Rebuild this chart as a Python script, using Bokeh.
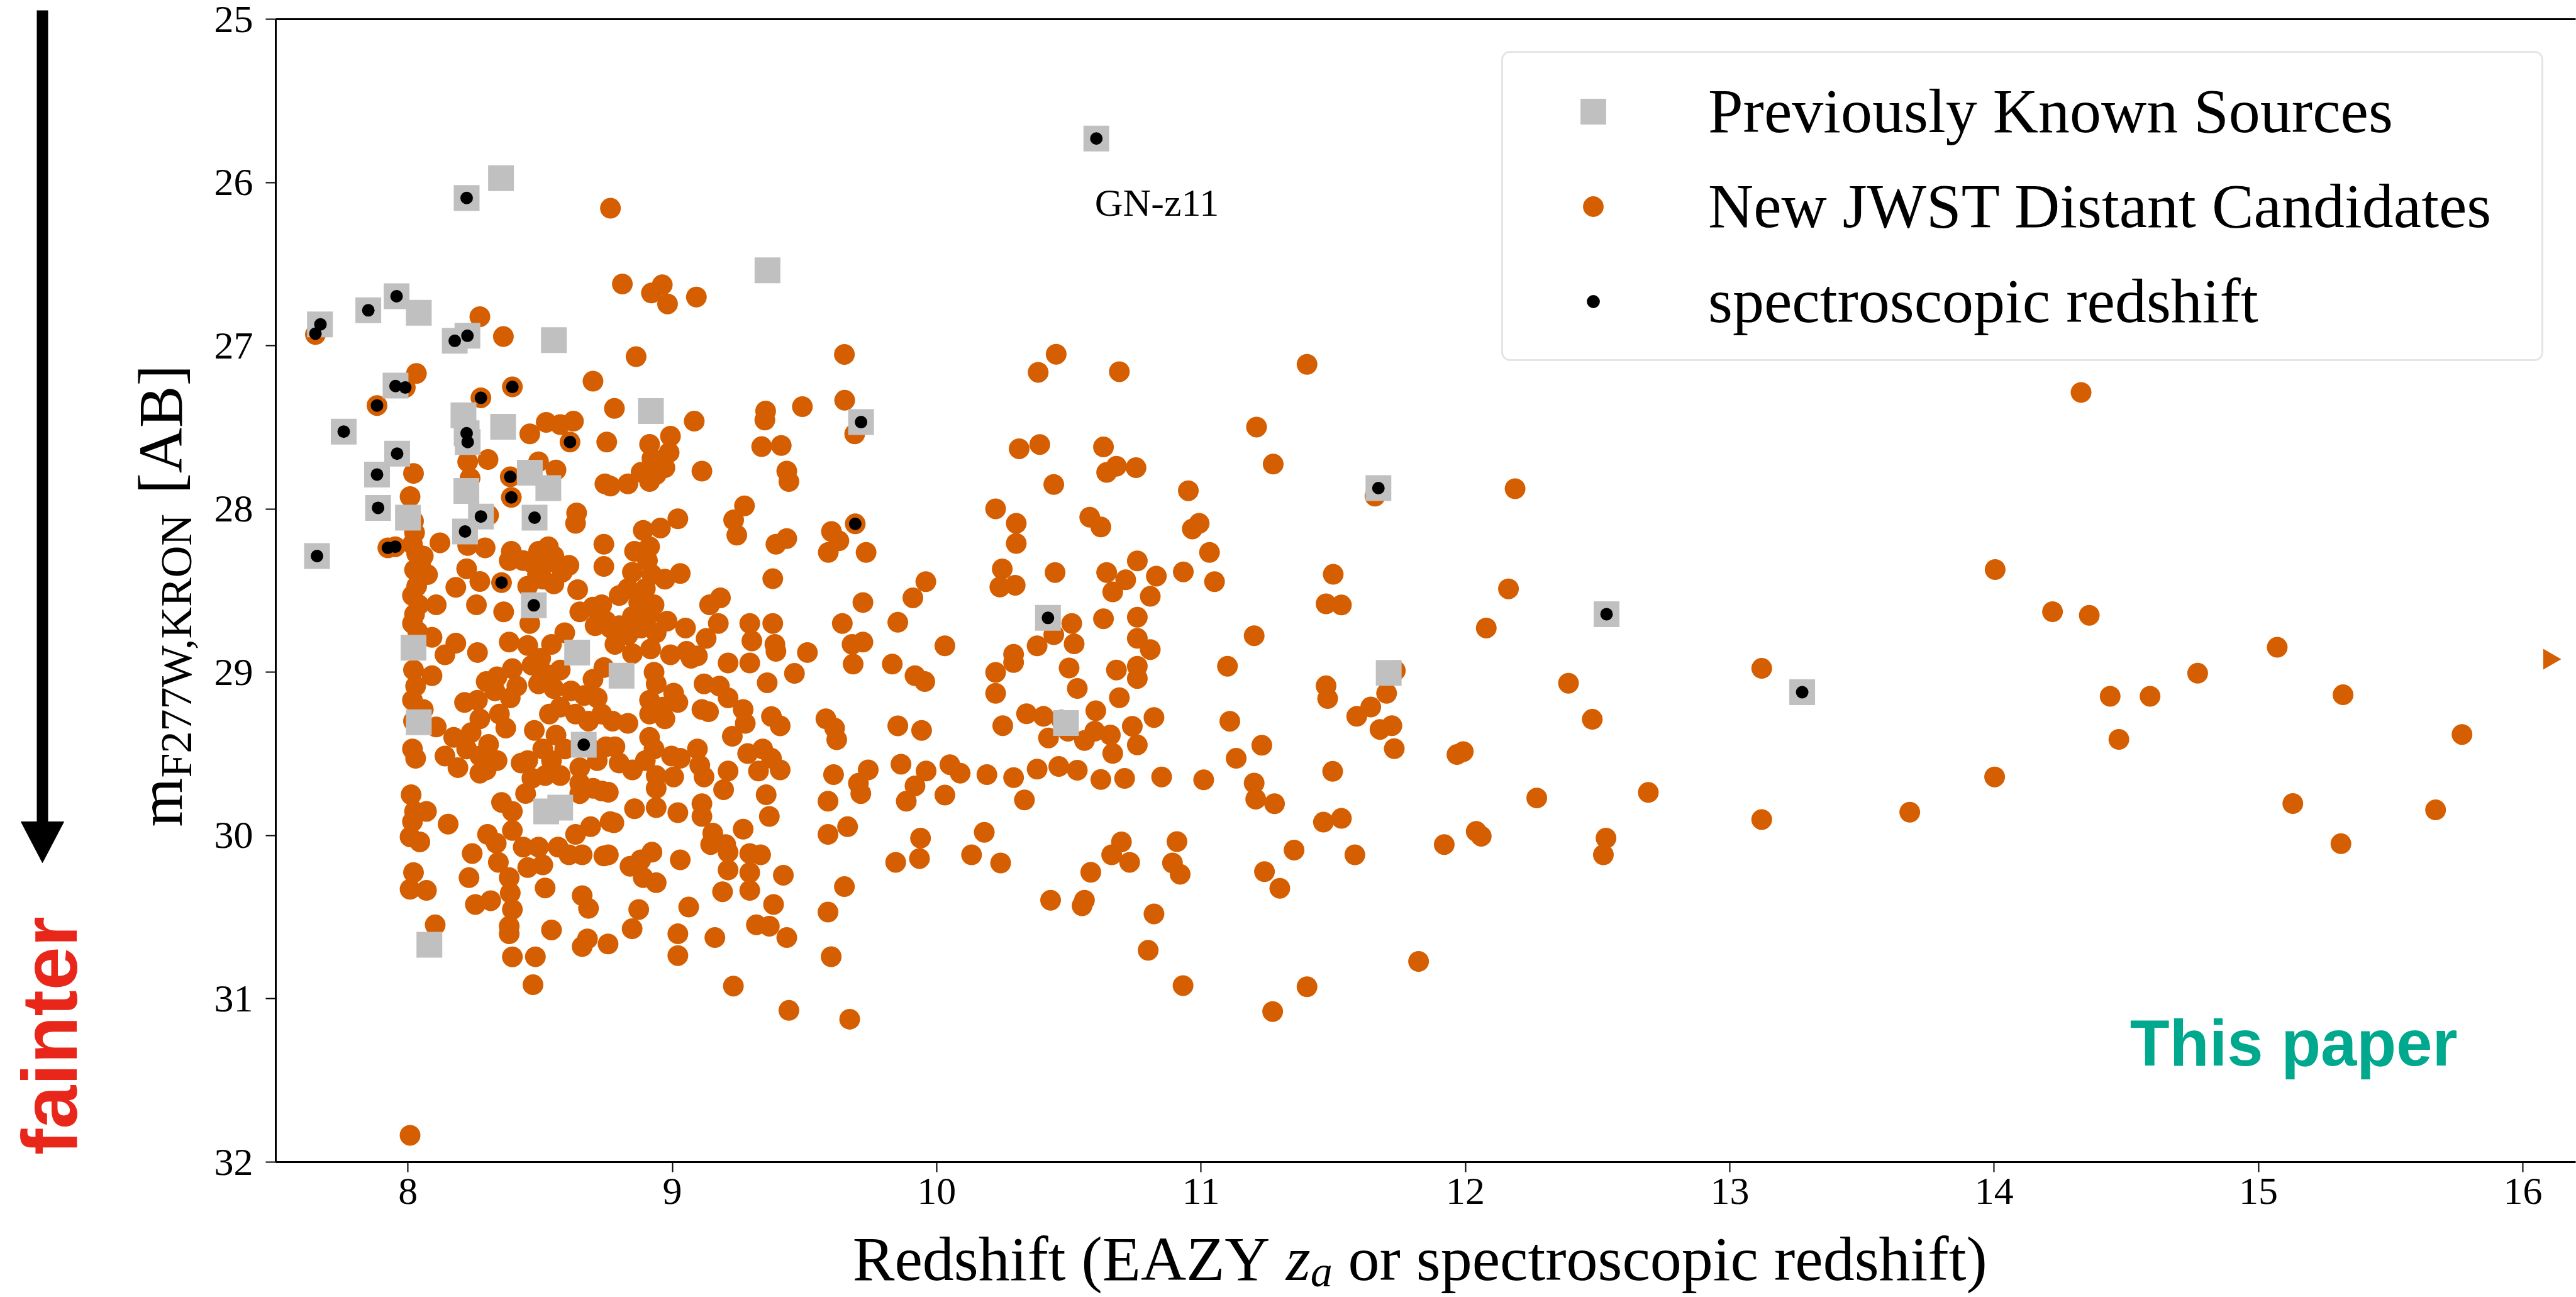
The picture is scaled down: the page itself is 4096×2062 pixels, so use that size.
import math
from bokeh.plotting import figure
from bokeh.layouts import row, column
from bokeh.models import Range1d, Label, Legend, LegendItem, FixedTicker, LinearAxis
from bokeh.core.properties import value
from bokeh.embed import file_html
from bokeh.resources import INLINE

# ---------------- data (redshift, magnitude) ----------------
x_ticks = [8, 9, 10, 11, 12, 13, 14, 15, 16]
y_ticks = [25, 26, 27, 28, 29, 30, 31, 32]

new_candidates = [
    (8.766,26.158),(7.650,26.931),(8.272,26.822),(8.361,26.944),(8.700,27.217),(8.032,27.170),(7.990,27.256),
    (7.883,27.366),(8.276,27.319),(8.395,27.252),(8.781,27.384),(8.811,26.622),(8.921,26.677),(8.962,26.627),
    (8.982,26.744),(9.091,26.702),(8.863,27.067),(9.651,27.053),(9.492,27.373),(9.652,27.334),(9.690,27.540),
    (9.353,27.400),
    (8.461,27.540),(8.523,27.469),(8.576,27.483),(8.626,27.462),(8.613,27.590),(8.752,27.590),(8.021,27.782),
    (8.226,27.711),(8.303,27.697),(8.235,27.811),(8.387,27.803),(8.391,27.929),(8.494,27.711),(8.560,27.761),
    (8.745,27.846),(8.008,27.924),
    (8.021,28.074),(8.025,28.145),(8.017,28.216),(8.033,28.273),(8.050,28.316),(8.025,28.373),(8.045,28.416),
    (8.033,28.473),(8.017,28.530),(8.041,28.587),(8.025,28.644),(8.017,28.701),(8.037,28.751),(8.058,28.288),
    (8.074,28.402),
    (8.305,28.038),(7.924,28.238),(7.952,28.231),(8.121,28.207),(8.226,28.224),(8.292,28.238),(8.391,28.259),
    (8.383,28.316),(8.638,28.024),(8.634,28.088),(8.741,28.216),(8.741,28.352),
    (8.494,28.259),(8.531,28.231),(8.552,28.288),(8.469,28.330),(8.527,28.330),(8.609,28.345),(8.584,28.387),
    (8.510,28.430),(8.453,28.473),(8.552,28.459),(8.642,28.494),(8.490,28.402),(8.436,28.316),
    (8.222,28.366),(8.272,28.444),(8.181,28.480),(8.259,28.587),(8.362,28.630),(8.461,28.701),(8.091,28.786),
    (8.107,28.587),(8.383,28.815),(8.453,28.836),(8.181,28.822),(8.140,28.893),(8.263,28.879),(8.395,28.978),
    (8.354,28.451),
    (8.650,28.630),(8.700,28.601),(8.733,28.587),(8.708,28.715),(8.749,28.687),(8.593,28.758),(8.543,28.829),
    (8.502,28.914),(8.469,28.957),(8.527,29.014),(8.576,28.986),(8.494,29.071),(8.552,29.100),(8.617,29.114),
    (8.700,29.043),(8.741,28.971),(8.667,29.142),(8.716,29.157),(8.634,29.256),(8.683,29.299),(8.733,29.256),
    (8.535,29.256),(8.576,29.214),(8.478,29.356),(8.560,29.385),(8.510,29.470),(8.453,29.541),(8.543,29.541),
    (8.593,29.470),(8.683,29.456),(8.716,29.541),(8.650,29.584),(8.749,29.456),
    (8.296,29.057),(8.337,29.028),(8.214,29.185),(8.263,29.171),(8.329,29.114),(8.387,29.157),(8.412,29.085),
    (8.272,29.285),(8.346,29.256),(8.239,29.370),(8.370,29.342),(8.173,29.399),(8.305,29.442),(8.222,29.470),
    (8.140,29.513),(8.272,29.513),(8.337,29.541),(8.428,29.556),(8.189,29.584),(8.296,29.598),
    (8.021,28.986),(8.091,29.021),(8.029,29.085),(8.017,29.171),(8.058,29.228),(8.021,29.299),(8.107,29.335),
    (8.017,29.470),(8.029,29.527),
    (9.083,27.462),(9.350,27.455),
    (8.993,27.554),(8.914,27.604),(8.988,27.654),(8.923,27.690),(8.972,27.747),(8.882,27.775),(8.939,27.789),
    (8.832,27.846),(8.766,27.860),(8.914,27.832),
    (9.112,27.768),(9.338,27.618),(9.412,27.611),(9.433,27.768),(9.441,27.832),(9.273,27.981),(9.232,28.067),
    (9.244,28.160),(9.392,28.216),(9.433,28.181),(9.602,28.138),(9.630,28.195),(9.590,28.266),(9.692,28.091),
    (9.733,28.266),(9.021,28.060),(8.955,28.117),(8.890,28.131),
    (8.857,28.259),(8.914,28.231),(8.906,28.316),(8.849,28.387),(8.923,28.402),(8.972,28.430),(9.030,28.395),
    (8.832,28.487),(8.898,28.487),(8.799,28.530),(8.873,28.573),(8.931,28.587),(8.849,28.658),(8.914,28.644),
    (8.980,28.687),(8.799,28.715),(8.882,28.729),(8.939,28.758),(8.766,28.729),(8.832,28.772),(8.783,28.829),
    (9.380,28.427),(9.182,28.544),(9.141,28.587),(9.174,28.701),(9.050,28.729),(9.721,28.573),(9.959,28.445),
    (9.910,28.544),(9.293,28.701),(9.380,28.701),(9.301,28.808),(9.388,28.829),(9.392,28.872),(9.643,28.701),
    (9.853,28.694),(9.511,28.879),(9.680,28.829),(9.721,28.815),(9.684,28.950),(9.832,28.950),(9.918,29.021),
    (9.955,29.057),(9.462,29.007),(9.359,29.064),(9.211,28.943),(9.293,28.943),(9.120,29.071),(9.178,29.085),
    (9.211,29.157),(9.268,29.228),(9.276,29.313),(9.227,29.392),(9.128,28.793),(9.095,28.900),(9.071,28.914),
    (8.849,28.886),(8.918,28.857),(8.993,28.893),(9.054,28.872),
    (8.931,29.000),(8.939,29.071),(9.005,29.128),(8.914,29.171),(8.964,29.214),(9.021,29.185),(8.914,29.256),
    (8.972,29.285),(9.112,29.228),(9.137,29.242),(9.375,29.271),(9.408,29.328),(9.581,29.285),(9.614,29.342),
    (9.622,29.413),(9.853,29.328),(9.943,29.356),(9.865,29.563),(9.960,29.605),(9.741,29.598),(9.610,29.627),
    (8.774,29.299),(8.832,29.313),(8.783,29.456),(8.914,29.399),(8.931,29.470),(8.898,29.541),(8.997,29.513),
    (9.030,29.527),(8.799,29.556),(8.849,29.598),(9.095,29.470),(9.104,29.570),(9.211,29.605),(9.285,29.498),
    (9.342,29.470),(9.375,29.527),(9.408,29.598),(9.326,29.605),
    (8.272,29.618),(8.012,29.750),(8.025,29.852),(8.070,29.852),(8.017,29.915),(8.008,30.008),(8.045,30.039),
    (8.152,29.930),(8.021,30.227),(8.008,30.329),(8.070,30.336),(8.103,30.547),(8.008,31.836),(8.243,30.110),
    (8.231,30.258),(8.301,29.993),(8.334,30.047),(8.342,30.164),(8.383,30.258),(8.387,30.352),(8.395,30.453),
    (8.383,30.555),(8.383,30.602),(8.255,30.422),(8.313,30.399),(8.354,29.797),(8.395,29.852),(8.395,29.969),
    (8.445,29.743),(8.469,29.649),(8.519,29.633),(8.576,29.633),(8.436,30.071),(8.494,30.071),(8.510,30.180),
    (8.453,30.196),(8.519,30.321),(8.543,30.578),(8.395,30.743),(8.482,30.743),(8.473,30.914),(8.659,30.368),
    (8.683,30.446),(8.659,30.680),(8.679,30.633),(8.757,30.664),(8.650,29.680),(8.700,29.711),(8.733,29.727),
    (8.691,29.946),(8.765,29.915),(8.568,30.071),(8.609,30.118),(8.659,30.118),(8.741,30.125),(8.634,29.993),
    (8.650,29.743),
    (8.939,29.633),(8.939,29.711),(9.005,29.641),(9.120,29.641),(9.194,29.719),(9.704,29.680),(9.713,29.743),
    (9.918,29.696),(9.589,29.790),(9.885,29.790),
    (8.758,29.735),(8.857,29.836),(8.939,29.829),(9.021,29.860),(9.112,29.805),(9.112,29.883),(9.355,29.750),
    (9.367,29.883),(8.779,29.922),
    (9.268,29.961),(9.153,29.985),(9.145,30.055),(9.202,30.055),(9.211,30.102),(9.293,30.110),(9.334,30.118),
    (9.589,29.993),(9.663,29.946),(9.939,30.016),(9.935,30.141),(9.845,30.164),
    (8.758,30.118),(8.840,30.188),(8.881,30.149),(8.923,30.102),(8.890,30.258),(8.939,30.289),(9.030,30.149),
    (9.211,30.211),(9.293,30.227),(9.293,30.336),(9.190,30.344),(9.420,30.243),
    (9.651,30.313),(9.589,30.469),(9.601,30.742),
    (8.873,30.453),(8.848,30.571),(9.062,30.438),(9.021,30.602),(9.021,30.735),(9.161,30.625),(9.318,30.547),
    (9.383,30.422),(9.367,30.555),(9.433,30.625),
    (9.231,30.922),(9.441,31.071),(9.671,31.125),
    (10.452,27.052),(10.384,27.163),(10.691,27.159),(11.401,27.114),(11.210,27.498),(11.273,27.725),
    (10.312,27.631),(10.390,27.605),(10.631,27.620),(10.643,27.776),(10.680,27.738),(10.754,27.747),
    (10.443,27.850),(10.952,27.888),(11.658,27.921),(12.188,27.876),(10.223,27.999),(10.301,28.088),
    (10.301,28.211),(10.579,28.050),(10.621,28.110),(10.967,28.122),(10.993,28.088),(11.032,28.266),
    (10.248,28.367),(10.448,28.389),(10.759,28.318),(10.643,28.389),(10.715,28.434),(10.831,28.411),
    (10.933,28.385),(11.051,28.445),(11.500,28.400),(12.163,28.489),(10.239,28.478),(10.297,28.467),
    (10.666,28.508),(10.808,28.535),(11.473,28.581),(11.531,28.588),(10.443,28.770),(10.511,28.701),
    (10.631,28.672),(10.759,28.663),(10.031,28.838),(10.380,28.838),(10.520,28.826),(10.759,28.792),
    (10.808,28.861),(11.201,28.776),(12.079,28.729),(10.291,28.890),(10.291,28.940),(10.223,29.001),
    (10.223,29.129),(10.501,28.974),(10.532,29.099),(10.680,28.986),(10.691,29.156),(10.759,28.963),
    (10.759,29.038),(11.100,28.963),(11.473,29.083),(11.479,29.161),(11.735,28.990),(11.702,29.129),
    (12.390,29.067),(12.480,29.288),(10.340,29.254),(10.404,29.270),(10.250,29.327),(10.472,29.293),
    (10.497,29.361),(10.602,29.236),(10.423,29.402),(10.559,29.418),(10.598,29.361),(10.657,29.384),
    (10.666,29.497),(10.740,29.331),(10.759,29.445),(10.822,29.277),(11.109,29.300),(11.589,29.270),
    (11.642,29.213),(11.677,29.350),(11.722,29.327),(11.731,29.468),(11.968,29.504),(11.992,29.486),
    (11.230,29.447),(11.133,29.527),(11.498,29.607),(10.050,29.566),(10.089,29.618),(10.190,29.627),
    (10.291,29.645),(10.380,29.593),(10.462,29.577),(10.532,29.600),(10.621,29.657),(10.711,29.650),
    (10.851,29.641),(11.010,29.659),(10.031,29.752),(10.332,29.782),(11.201,29.679),(11.207,29.777),
    (11.278,29.805),(11.463,29.918),(11.531,29.895),(12.270,29.770),(12.692,29.736),(10.180,29.980),
    (10.132,30.118),(10.242,30.168),(10.699,30.039),(10.662,30.118),(10.730,30.164),(10.909,30.037),
    (10.892,30.168),(10.921,30.237),(10.583,30.225),(11.352,30.089),(11.240,30.221),(11.298,30.323),
    (11.582,30.118),(11.920,30.055),(12.041,29.975),(12.060,30.004),(12.532,30.016),(12.522,30.118),
    (10.431,30.396),(10.559,30.396),(10.550,30.430),(10.822,30.480),(10.800,30.703),(11.823,30.771),
    (10.932,30.919),(11.401,30.926),(11.271,31.078),
    (13.121,28.976),(14.221,28.629),(14.360,28.651),(15.071,28.847),(14.770,29.006),(14.439,29.147),
    (14.590,29.147),(15.320,29.138),(14.472,29.411),(15.770,29.381),(14.002,29.641),(13.121,29.902),
    (13.681,29.857),(15.130,29.804),(15.670,29.843),(15.312,30.050),(14.329,27.286),(14.004,28.371),
]

known_sources = [
    (8.222,26.095),(8.352,25.974),(7.667,26.869),(7.850,26.783),(7.957,26.697),(8.041,26.798),(8.177,26.970),
    (8.225,26.939),(8.552,26.966),(7.953,27.244),(9.360,26.538),(8.919,27.400),(9.714,27.468),(7.757,27.526),
    (8.210,27.426),(8.222,27.536),(8.226,27.590),(8.360,27.496),(7.959,27.661),(7.883,27.789),(8.461,27.778),
    (8.531,27.872),(8.221,27.889),(7.887,27.993),(8.000,28.053),(8.276,28.046),(8.216,28.138),(8.479,28.053),
    (7.656,28.288),(8.476,28.590),(8.021,28.850),(8.640,28.879),(8.665,29.444),(8.041,29.306),(8.808,29.021),
    (8.523,29.852),(8.576,29.829),(8.081,30.669),(10.604,25.731),(11.671,27.872),(10.421,28.667),
    (12.534,28.644),(11.710,29.004),(10.489,29.311),(13.274,29.122),
]

spectroscopic = [
    (8.222,26.095),(7.669,26.869),(7.650,26.926),(7.850,26.783),(7.957,26.697),(8.177,26.970),(8.225,26.939),
    (7.953,27.247),(7.990,27.256),(7.883,27.366),(8.276,27.319),(8.395,27.252),(7.757,27.526),(8.222,27.536),
    (8.226,27.590),(8.613,27.590),(7.959,27.661),(7.883,27.789),(8.387,27.803),(8.391,27.929),(7.887,27.993),
    (8.276,28.046),(8.216,28.138),(8.479,28.053),(7.924,28.238),(7.952,28.231),(7.656,28.288),(8.354,28.451),
    (8.476,28.590),(8.665,29.444),(9.714,27.468),(9.692,28.091),(10.604,25.731),(11.671,27.872),
    (10.421,28.667),(12.534,28.644),(13.274,29.122),
]

# candidate beyond the right edge of the axis (drawn as a right-pointing marker)
offscale_z = [16.1]
offscale_mag = [28.92]

ORANGE = "#d55e00"
GRAY = "#c0c0c0"
SERIF = "Liberation Serif"
SANS = "Liberation Sans"

H = 2062
LEFT_W = 330          # left strip: arrow, "fainter", y-axis title
BOTTOM_H = 115        # bottom strip: x-axis title
MAIN_W = 4096 - LEFT_W
MAIN_H = H - BOTTOM_H
MB_LEFT = 438 - LEFT_W


def strip(w, h, x_range=None, mb_left=0, mb_right=0):
    f = figure(width=w, height=h, output_backend="svg", toolbar_location=None,
               x_range=x_range if x_range is not None else Range1d(0, w), y_range=Range1d(0, h),
               min_border=0, min_border_left=mb_left, min_border_right=mb_right,
               min_border_top=0, min_border_bottom=0)
    f.axis.visible = False
    f.grid.visible = False
    f.outline_line_color = None
    f.background_fill_color = "white"
    f.border_fill_color = "white"
    return f


# ---------------- main plot ----------------
p = figure(width=MAIN_W, height=MAIN_H, output_backend="svg", toolbar_location=None,
           x_range=Range1d(7.5, 16.2), y_range=Range1d(32, 25),
           min_border_left=MB_LEFT, min_border_right=1, min_border_top=30,
           min_border_bottom=MAIN_H - 1847,
           background_fill_color="white", border_fill_color="white")
p.grid.visible = False
p.outline_line_color = None

p.xaxis.ticker = FixedTicker(ticks=x_ticks)
p.yaxis.ticker = FixedTicker(ticks=y_ticks)
for ax in (p.xaxis[0], p.yaxis[0]):
    ax.axis_line_width = 3
    ax.axis_line_color = "black"
    ax.major_tick_line_width = 2
    ax.major_tick_line_color = "black"
    ax.major_tick_out = 16
    ax.major_tick_in = 0
    ax.minor_tick_line_color = None
    ax.major_label_text_font = SERIF
    ax.major_label_text_font_size = "62px"
    ax.major_label_text_color = "black"
p.xaxis.major_label_standoff = 10
p.yaxis.major_label_standoff = 20

# top spine only (the right spine lies outside the cropped figure)
top_axis = LinearAxis(ticker=FixedTicker(ticks=[]), axis_line_width=3, axis_line_color="black",
                      major_tick_line_color=None, minor_tick_line_color=None,
                      major_label_text_font_size="0px")
p.add_layout(top_axis, "above")

nz = [a for a, b in new_candidates]
nm = [b for a, b in new_candidates]
kz = [a for a, b in known_sources]
km = [b for a, b in known_sources]
sz = [a for a, b in spectroscopic]
sm = [b for a, b in spectroscopic]

p.scatter(nz, nm, marker="circle", size=33, fill_color=ORANGE, line_color=None)
p.scatter(kz, km, marker="square", size=41, fill_color=GRAY, line_color=None)
p.scatter(sz, sm, marker="circle", size=20, fill_color="black", line_color=None)
p.scatter(offscale_z, offscale_mag, marker="triangle", angle=-math.pi / 2, size=33,
          fill_color=ORANGE, line_color=None)

# legend-only renderers (NaN data: nothing drawn in the plot area)
nan = float("nan")
r_known = p.scatter(x=[nan], y=[nan], marker="square", size=41, fill_color=GRAY, line_color=None)
r_new = p.scatter(x=[nan], y=[nan], marker="circle", size=41, fill_color=ORANGE,
                  line_color="white", line_width=8)
r_spec = p.scatter(x=[nan], y=[nan], marker="circle", size=41, fill_color="black",
                   line_color="white", line_width=20)

legend = Legend(items=[
    LegendItem(label="Previously Known Sources", renderers=[r_known]),
    LegendItem(label="New JWST Distant Candidates", renderers=[r_new]),
    LegendItem(label="spectroscopic redshift", renderers=[r_spec]),
], location="top_right")
legend.label_text_font = SERIF
legend.label_text_font_size = "100px"
legend.label_text_color = "black"
legend.label_text_baseline = "alphabetic"
legend.glyph_width = 216
legend.glyph_height = 102
legend.label_height = 102
legend.label_width = 1290
legend.label_standoff = 75
legend.padding = 35
legend.spacing = 36
legend.margin = 51
legend.border_line_color = "#cccccc"
legend.border_line_width = 3
legend.background_fill_color = "white"
legend.background_fill_alpha = 1.0
if "border_radius" in Legend.properties():
    legend.border_radius = 14
p.add_layout(legend)

p.add_layout(Label(x=10.598, y=26.123, text="GN-z11", text_font=SERIF, text_font_size="62px",
                   text_color="black", text_align="left", text_baseline="alphabetic"))
p.add_layout(Label(x=14.514, y=31.27, text="This paper", text_font=SANS, text_font_style="bold",
                   text_font_size="103px", text_color="#00a88e", text_align="left",
                   text_baseline="alphabetic"))

# ---------------- left strip ----------------
left = strip(LEFT_W, H)
left.segment(x0=[67], y0=[H - 16], x1=[67], y1=[H - 1310], line_width=18, line_color="black")
left.patch(x=[33, 101, 67], y=[H - 1306, H - 1306, H - 1371], fill_color="black", line_color="black")
left.text(x=[78], y=[H - 1646], text=["fainter"], angle=math.pi / 2,
          text_font=value(SANS), text_font_style="bold", text_font_size="124px",
          text_color="#e8261a", text_align="center", text_baseline="alphabetic")
# y-axis title: m_{F277W,KRON} [AB]
left.text(x=[255], y=[H - 1314], text=["m"], angle=math.pi / 2, text_font=value(SERIF),
          text_font_size="100px", text_color="black", text_align="left", text_baseline="alphabetic")
left.text(x=[280], y=[H - 1236], text=["F277W,KRON"], angle=math.pi / 2, text_font=value(SERIF),
          text_font_size="70px", text_color="black", text_align="left", text_baseline="alphabetic")
left.text(x=[255], y=[H - 785], text=["[AB]"], angle=math.pi / 2, text_font=value(SERIF),
          text_font_size="100px", text_color="black", text_align="left", text_baseline="alphabetic")

# ---------------- bottom strip (shares the redshift axis) ----------------
bottom = strip(MAIN_W, BOTTOM_H, x_range=p.x_range, mb_left=MB_LEFT, mb_right=1)
xt = [("Redshift (EAZY", 9.682, 61, "100px", "normal"),
      ("z", 11.321, 61, "100px", "italic"),
      ("a", 11.414, 41, "70px", "italic"),
      ("or spectroscopic redshift)", 11.556, 61, "100px", "normal")]
for txt, xx, yy, fs, st in xt:
    bottom.text(x=[xx], y=[yy], text=[txt], text_font=value(SERIF), text_font_size=fs,
                text_font_style=st, text_color="black", text_align="left",
                text_baseline="alphabetic")

layout = row(left, column(p, bottom, spacing=0), spacing=0)
open("out.html", "w").write(file_html(layout, INLINE))
